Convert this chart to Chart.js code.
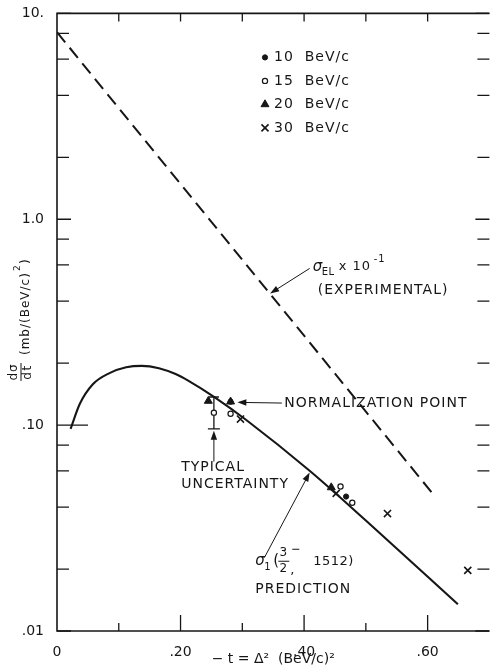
<!DOCTYPE html>
<html>
<head>
<meta charset="utf-8">
<script src="https://cdn.jsdelivr.net/npm/chart.js@4.4.1/dist/chart.umd.min.js"></script>
<style>
  html, body { margin: 0; padding: 0; background: #fff; overflow: hidden; }
  #wrap { width: 496px; height: 670px; }
</style>
</head>
<body>
<div id="wrap"><canvas id="chart" width="496" height="670"></canvas></div>
<script>
// --- data ---
// sigma_EL x 10^-1 (experimental), dashed straight line on the log scale
const elasticT = [0, 0.612];
const elasticSigma = [8.1, 0.045];

// sigma_1 (3/2-, 1512) prediction, solid curve
const predT = [0.022, 0.037, 0.058, 0.085, 0.112, 0.137, 0.165, 0.192, 0.213, 0.256, 0.308, 0.409, 0.500, 0.649];
const predSigma = [0.096, 0.127, 0.158, 0.179, 0.191, 0.194, 0.189, 0.177, 0.164, 0.136, 0.105, 0.060, 0.0344, 0.0135];

// measured points by beam momentum
const p10T = [0.281, 0.468];
const p10Sigma = [0.130, 0.045];
const p15T = [0.254, 0.281, 0.459, 0.478];
const p15Sigma = [0.115, 0.1135, 0.0503, 0.042];
const p20T = [0.245, 0.281, 0.444];
const p20Sigma = [0.131, 0.130, 0.0498];
const p30T = [0.297, 0.452, 0.535, 0.665];
const p30Sigma = [0.107, 0.0466, 0.0372, 0.0197];

// typical uncertainty bar
const errT = [0.254];
const errLow = [0.096];
const errHigh = [0.137];

// axes
const yTickValues = [0.01, 0.1, 1, 10];
const yTickLabels = ['.01', '.10', '1.0', '10.'];
const yMinorTicks = [0.02, 0.04, 0.06, 0.08, 0.2, 0.4, 0.6, 0.8, 2, 4, 6, 8];
const xTickValues = [0, 0.2, 0.4, 0.6];
const xTickLabels = ['0', '.20', '.40', '.60'];
const xMinorTicks = [0.1, 0.3, 0.5];

const legendLabels = ['10  BeV/c', '15  BeV/c', '20  BeV/c', '30  BeV/c'];

const ink = '#161616';
const font = '"DejaVu Sans", sans-serif';

const pts = (xs, ys) => xs.map((v, i) => ({ x: v, y: ys[i] }));

const markerStyles = [
  { pointStyle: 'circle', pointRadius: 2.6, pointBackgroundColor: ink, pointBorderColor: ink, pointBorderWidth: 1 },
  { pointStyle: 'circle', pointRadius: 2.6, pointBackgroundColor: '#fff', pointBorderColor: ink, pointBorderWidth: 1.2 },
  { pointStyle: 'triangle', pointRadius: 4.6, pointBackgroundColor: ink, pointBorderColor: ink, pointBorderWidth: 1 },
  { pointStyle: 'crossRot', pointRadius: 5, pointBackgroundColor: ink, pointBorderColor: ink, pointBorderWidth: 1.6 },
];

// annotation anchors in data units: [fromT, fromSigma, toT, toSigma]
const arrows = [
  [0.409, 0.577, 0.345, 0.436],
  [0.364, 0.128, 0.292, 0.129],
  [0.254, 0.0665, 0.254, 0.094],
  [0.336, 0.0228, 0.409, 0.0588],
];

function drawArrow(ctx, x0, y0, x1, y1) {
  const ang = Math.atan2(y1 - y0, x1 - x0);
  const L = 9, W = 3.2;
  ctx.beginPath();
  ctx.moveTo(x0, y0);
  ctx.lineTo(x1 - Math.cos(ang) * L * 0.8, y1 - Math.sin(ang) * L * 0.8);
  ctx.stroke();
  ctx.beginPath();
  ctx.moveTo(x1, y1);
  ctx.lineTo(x1 - Math.cos(ang) * L - Math.sin(ang) * W, y1 - Math.sin(ang) * L + Math.cos(ang) * W);
  ctx.lineTo(x1 - Math.cos(ang) * L + Math.sin(ang) * W, y1 - Math.sin(ang) * L - Math.cos(ang) * W);
  ctx.closePath();
  ctx.fill();
}

function txt(ctx, s, x, y, size, opts = {}) {
  ctx.font = (opts.italic ? 'italic ' : '') + size + 'px ' + font;
  ctx.letterSpacing = (opts.spacing ?? 1) + 'px';
  ctx.textAlign = opts.align || 'left';
  ctx.textBaseline = 'middle';
  ctx.fillText(s, x, y);
}

const frame = {
  id: 'frame',
  beforeDatasetsDraw(chart) {
    const { ctx, chartArea: a, scales: { x, y } } = chart;
    ctx.save();
    ctx.strokeStyle = ink;
    ctx.lineWidth = 1.6;
    ctx.beginPath();
    ctx.moveTo(a.right, a.top);
    ctx.lineTo(a.left, a.top);
    ctx.lineTo(a.left, a.bottom);
    ctx.lineTo(a.right, a.bottom);
    ctx.stroke();

    ctx.lineWidth = 1.3;
    ctx.beginPath();
    yMinorTicks.forEach(v => {
      const py = y.getPixelForValue(v);
      ctx.moveTo(a.left, py); ctx.lineTo(a.left + 12, py);
      ctx.moveTo(a.right, py); ctx.lineTo(a.right - 12, py);
    });
    yTickValues.forEach(v => {
      const py = y.getPixelForValue(v);
      ctx.moveTo(a.left, py); ctx.lineTo(a.left + (v === 0.1 ? 31 : 14), py);
      ctx.moveTo(a.right, py); ctx.lineTo(a.right - 14, py);
    });
    xMinorTicks.forEach(v => {
      const px = x.getPixelForValue(v);
      ctx.moveTo(px, a.bottom); ctx.lineTo(px, a.bottom - 8);
      ctx.moveTo(px, a.top); ctx.lineTo(px, a.top + 8);
    });
    xTickValues.slice(1).forEach(v => {
      const px = x.getPixelForValue(v);
      ctx.moveTo(px, a.bottom); ctx.lineTo(px, a.bottom - 16);
      ctx.moveTo(px, a.top); ctx.lineTo(px, a.top + 8);
    });
    ctx.stroke();

    // typical uncertainty bar
    ctx.lineWidth = 1.3;
    ctx.beginPath();
    errT.forEach((t, i) => {
      const px = x.getPixelForValue(t);
      const top = y.getPixelForValue(errHigh[i]);
      const bot = y.getPixelForValue(errLow[i]);
      ctx.moveTo(px, top); ctx.lineTo(px, bot);
      ctx.moveTo(px - 5, top); ctx.lineTo(px + 5, top);
      ctx.moveTo(px - 6, bot); ctx.lineTo(px + 6, bot);
    });
    ctx.stroke();
    ctx.restore();
  },
  afterDatasetsDraw(chart) {
    const { ctx, chartArea: a, scales: { x, y } } = chart;
    const X = v => x.getPixelForValue(v);
    const Y = v => y.getPixelForValue(v);
    ctx.save();
    ctx.fillStyle = ink;
    ctx.strokeStyle = ink;
    ctx.lineWidth = 1;
    arrows.forEach(([t0, s0, t1, s1]) => drawArrow(ctx, X(t0), Y(s0), X(t1), Y(s1)));

    // sigma_EL x 10^-1 (EXPERIMENTAL)
    let bx = X(0.414), by = Y(0.583);
    txt(ctx, 'σ', bx, by, 15, { italic: true, spacing: 0 });
    txt(ctx, 'EL', bx + 9, by + 5, 10, { spacing: 0.5 });
    txt(ctx, 'x 10', bx + 26, by - 1, 13);
    txt(ctx, '-1', bx + 61, by - 8, 10);
    txt(ctx, '(EXPERIMENTAL)', X(0.422), Y(0.452), 14);

    txt(ctx, 'NORMALIZATION POINT', X(0.368), Y(0.128), 14);
    txt(ctx, 'TYPICAL', X(0.201), Y(0.0623), 14);
    txt(ctx, 'UNCERTAINTY', X(0.201), Y(0.0514), 14);

    // sigma_1 (3/2-, 1512) PREDICTION
    bx = X(0.321); by = Y(0.0218);
    txt(ctx, 'σ', bx, by, 15, { italic: true, spacing: 0 });
    txt(ctx, '1', bx + 9, by + 6, 10, { spacing: 0 });
    txt(ctx, '(', bx + 18, by, 15, { spacing: 0 });
    txt(ctx, '3', bx + 28, by - 8, 12, { align: 'center', spacing: 0 });
    txt(ctx, '2', bx + 28, by + 8, 12, { align: 'center', spacing: 0 });
    txt(ctx, ',', bx + 35, by + 9, 13, { spacing: 0 });
    ctx.lineWidth = 1.1;
    ctx.beginPath();
    ctx.moveTo(bx + 23, by); ctx.lineTo(bx + 34, by);
    ctx.moveTo(bx + 37, by - 12); ctx.lineTo(bx + 44, by - 12);
    ctx.stroke();
    txt(ctx, '1512)', bx + 58, by, 13, { spacing: 0.5 });
    txt(ctx, 'PREDICTION', bx, Y(0.0160), 14);

    // legend
    const lx = a.left + 208, ly = a.top + 44;
    legendLabels.forEach((lab, i) => {
      const st = markerStyles[i];
      const yy = ly + i * 23.5;
      ctx.fillStyle = st.pointBackgroundColor;
      ctx.strokeStyle = st.pointBorderColor;
      ctx.lineWidth = st.pointBorderWidth;
      Chart.helpers.drawPoint(ctx, { pointStyle: st.pointStyle, radius: st.pointRadius, rotation: 0, borderWidth: st.pointBorderWidth }, lx, yy);
      ctx.fillStyle = ink;
      txt(ctx, lab, lx + 9, yy, 14);
    });

    // y axis title: d sigma / d t (mb/(BeV/c)^2)
    ctx.translate(21, 372);
    ctx.rotate(-Math.PI / 2);
    ctx.fillStyle = ink;
    ctx.strokeStyle = ink;
    txt(ctx, 'dσ', 0, -7, 12, { align: 'center', spacing: 1 });
    txt(ctx, 'dt', 0, 7, 12, { align: 'center', spacing: 1.5 });
    ctx.lineWidth = 1;
    ctx.beginPath();
    ctx.moveTo(-9, 0); ctx.lineTo(9, 0);
    ctx.stroke();
    txt(ctx, '(mb/(BeV/c)', 17, 5, 12, { spacing: 1 });
    txt(ctx, '2', 101, -3, 9, { spacing: 0 });
    txt(ctx, ')', 108, 5, 12, { spacing: 0 });
    ctx.restore();
  }
};

const markerSets = [[p10T, p10Sigma], [p15T, p15Sigma], [p20T, p20Sigma], [p30T, p30Sigma]];

new Chart(document.getElementById('chart'), {
  type: 'scatter',
  data: {
    datasets: [
      ...markerSets.map(([xs, ys], i) => ({
        label: legendLabels[i],
        data: pts(xs, ys),
        showLine: false,
        ...markerStyles[i],
        order: 0,
      })),
      {
        label: 'sigma_EL x 10^-1',
        data: pts(elasticT, elasticSigma),
        showLine: true,
        borderColor: ink,
        borderWidth: 2,
        borderDash: [13, 7],
        pointRadius: 0,
        order: 2,
      },
      {
        label: 'sigma_1 prediction',
        data: pts(predT, predSigma),
        showLine: true,
        borderColor: ink,
        borderWidth: 2.1,
        cubicInterpolationMode: 'monotone',
        pointRadius: 0,
        order: 1,
      },
    ],
  },
  options: {
    responsive: false,
    animation: false,
    devicePixelRatio: 1,
    layout: { padding: { top: 11, right: 1, left: 0, bottom: 0 } },
    plugins: { legend: { display: false }, tooltip: { enabled: false } },
    scales: {
      x: {
        type: 'linear',
        min: 0,
        max: 0.7,
        grid: { display: false },
        border: { display: false },
        afterBuildTicks: (axis) => { axis.ticks = xTickValues.map(v => ({ value: v })); },
        afterFit: (axis) => { axis.height = 39; },
        ticks: {
          autoSkip: false,
          maxRotation: 0,
          padding: 5,
          color: ink,
          font: { family: font, size: 14 },
          callback: (v) => xTickLabels[xTickValues.indexOf(v)],
        },
        title: {
          display: true,
          text: '− t = Δ²  (BeV/c)²',
          color: ink,
          font: { family: font, size: 14 },
          padding: { top: 0, bottom: 2 },
        },
      },
      y: {
        type: 'logarithmic',
        min: 0.01,
        max: 10,
        grid: { display: false },
        border: { display: false },
        afterBuildTicks: (axis) => { axis.ticks = yTickValues.map(v => ({ value: v })); },
        afterFit: (axis) => { axis.width = 57; },
        ticks: {
          autoSkip: false,
          padding: 5,
          color: ink,
          font: { family: font, size: 14 },
          callback: (v) => yTickLabels[yTickValues.indexOf(v)],
        },
      },
    },
  },
  plugins: [frame],
});
</script>
</body>
</html>
